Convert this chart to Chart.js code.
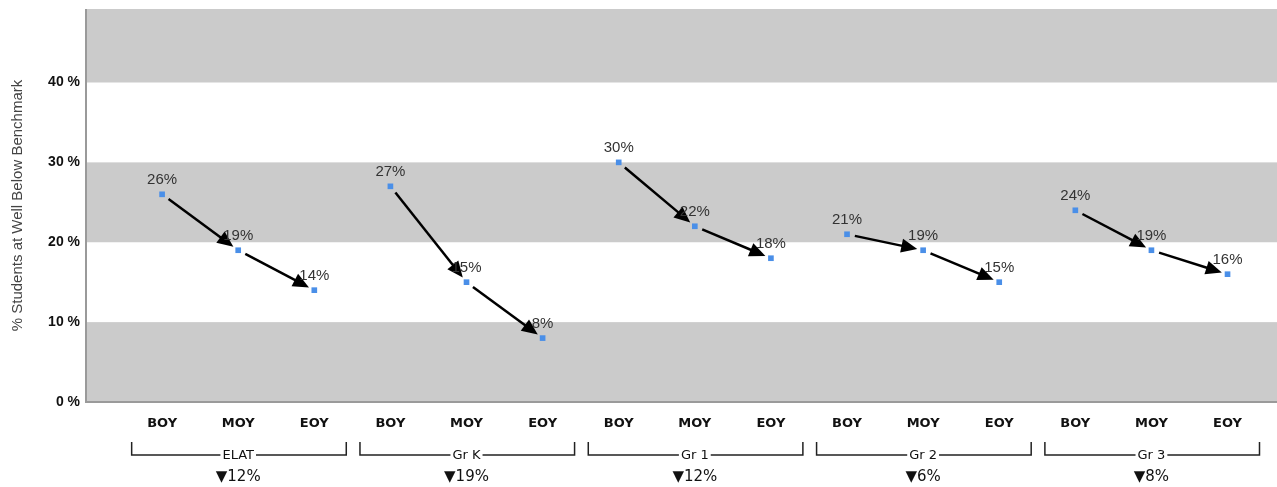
<!DOCTYPE html>
<html>
<head>
<meta charset="utf-8">
<script src="https://cdn.jsdelivr.net/npm/chart.js@4.4.0/dist/chart.umd.min.js"></script>
<style>
  html, body { margin: 0; padding: 0; background: #fff; }
  #wrap { width: 1277px; height: 487px; position: relative; }
</style>
</head>
<body>
<div id="wrap"><canvas id="chart"></canvas></div>
<script>
// groups along the x axis and the three testing windows
const groups = ['ELAT', 'Gr K', 'Gr 1', 'Gr 2', 'Gr 3'];
const periods = ['BOY', 'MOY', 'EOY'];
// % of students well below benchmark per window
const boyValues = [26, 27, 30, 21, 24];
const moyValues = [19, 15, 22, 19, 19];
const eoyValues = [14, 8, 18, 15, 16];
// drop from BOY to EOY shown under each group
const changes = [12, 19, 12, 6, 8];
const yTicks = [0, 10, 20, 30, 40];

const BAND_GREY = '#cbcbcb';
const POINT_BLUE = '#4a8fe8';

// flatten into one point per slot (x = slot index)
const points = [];
const perGroup = [boyValues, moyValues, eoyValues];
groups.forEach((g, gi) => {
  perGroup.forEach((arr, pi) => {
    points.push({ x: gi * 3 + pi, y: arr[gi] });
  });
});

const decorPlugin = {
  id: 'decor',
  beforeDatasetsDraw(chart) {
    const { ctx, chartArea: a, scales: { x, y } } = chart;
    ctx.save();
    // alternating bands: grey 0-10, white 10-20, grey 20-30 ...
    const edges = [...yTicks, y.max];
    for (let i = 0; i < edges.length - 1; i++) {
      if (i % 2 !== 0) continue;
      const top = y.getPixelForValue(edges[i + 1]);
      const bot = y.getPixelForValue(edges[i]);
      ctx.fillStyle = BAND_GREY;
      ctx.fillRect(a.left, top, a.right - a.left, bot - top);
    }
    // axis lines
    ctx.strokeStyle = '#9a9a9a';
    ctx.lineWidth = 2;
    ctx.beginPath();
    ctx.moveTo(a.left, a.top);
    ctx.lineTo(a.left, a.bottom);
    ctx.lineTo(a.right, a.bottom);
    ctx.stroke();

    // arrows between consecutive windows inside a group
    ctx.strokeStyle = '#000';
    ctx.fillStyle = '#000';
    ctx.lineWidth = 2.5;
    groups.forEach((g, gi) => {
      for (let j = 0; j < 2; j++) {
        const p0 = points[gi * 3 + j], p1 = points[gi * 3 + j + 1];
        const x0 = x.getPixelForValue(p0.x), y0 = y.getPixelForValue(p0.y);
        const x1 = x.getPixelForValue(p1.x), y1 = y.getPixelForValue(p1.y);
        const len = Math.hypot(x1 - x0, y1 - y0);
        const ux = (x1 - x0) / len, uy = (y1 - y0) / len;
        const sx = x0 + ux * 8, sy = y0 + uy * 8;
        const tx = x1 - ux * 6, ty = y1 - uy * 6;
        const head = 16, half = 7;
        const bx = tx - ux * head, by = ty - uy * head;
        ctx.beginPath();
        ctx.moveTo(sx, sy);
        ctx.lineTo(bx + ux * 2, by + uy * 2);
        ctx.stroke();
        ctx.beginPath();
        ctx.moveTo(tx, ty);
        ctx.lineTo(bx - uy * half, by + ux * half);
        ctx.lineTo(bx + uy * half, by - ux * half);
        ctx.closePath();
        ctx.fill();
      }
    });
    ctx.restore();
  },
  afterDatasetsDraw(chart) {
    const { ctx, scales: { x, y } } = chart;
    ctx.save();
    // value labels above the points
    ctx.fillStyle = '#333';
    ctx.font = '15px "Liberation Sans", Arial, sans-serif';
    ctx.textAlign = 'center';
    ctx.textBaseline = 'alphabetic';
    points.forEach(p => {
      ctx.fillText(p.y + '%', x.getPixelForValue(p.x), y.getPixelForValue(p.y) - 10);
    });

    // window labels, brackets and group names
    const step = x.getPixelForValue(1) - x.getPixelForValue(0);
    groups.forEach((g, gi) => {
      ctx.fillStyle = '#111';
      ctx.font = 'bold 13px "DejaVu Sans", Verdana, sans-serif';
      ctx.textBaseline = 'middle';
      periods.forEach((per, pi) => {
        ctx.fillText(per, x.getPixelForValue(gi * 3 + pi), 424);
      });
      const cx = x.getPixelForValue(gi * 3 + 1);
      const left = x.getPixelForValue(gi * 3) - 0.4 * step;
      const right = x.getPixelForValue(gi * 3 + 2) + 0.42 * step;
      ctx.font = '13px "DejaVu Sans", Verdana, sans-serif';
      const tw = ctx.measureText(g).width + 4;
      ctx.strokeStyle = '#222';
      ctx.lineWidth = 1.5;
      ctx.beginPath();
      ctx.moveTo(left, 442);
      ctx.lineTo(left, 455);
      ctx.lineTo(cx - tw / 2, 455);
      ctx.moveTo(cx + tw / 2, 455);
      ctx.lineTo(right, 455);
      ctx.lineTo(right, 442);
      ctx.stroke();
      ctx.fillText(g, cx, 456);
      ctx.font = '15px "DejaVu Sans", Verdana, sans-serif';
      ctx.fillText('\u25BC' + changes[gi] + '%', cx, 477);
    });
    ctx.restore();
  }
};

new Chart(document.getElementById('chart'), {
  type: 'scatter',
  data: {
    datasets: [{
      data: points,
      showLine: false,
      pointStyle: 'rect',
      pointRadius: 4,
      pointHoverRadius: 4,
      backgroundColor: POINT_BLUE,
      borderColor: POINT_BLUE,
      borderWidth: 0
    }]
  },
  options: {
    responsive: true,
    maintainAspectRatio: false,
    animation: false,
    layout: { autoPadding: false, padding: { top: 9, right: 0, bottom: 85, left: 0 } },
    plugins: {
      legend: { display: false },
      tooltip: { enabled: false }
    },
    scales: {
      x: {
        type: 'linear',
        display: false,
        min: -1,
        max: 14.65
      },
      y: {
        min: 0,
        max: 49.2,
        afterFit(scale) {
          scale.width = 86;
          scale.paddingTop = 0;
          scale.paddingBottom = 0;
        },
        grid: { display: false, drawTicks: false },
        border: { display: false },
        ticks: {
          stepSize: 10,
          padding: 6,
          color: '#111',
          font: { family: '"Liberation Sans", Arial, sans-serif', size: 14, weight: 'bold' },
          callback: v => (yTicks.includes(v) ? v + ' %' : '')
        },
        title: {
          display: true,
          text: '% Students at Well Below Benchmark',
          color: '#444',
          padding: { top: 9, bottom: 0 },
          font: { family: '"Liberation Sans", Arial, sans-serif', size: 15 }
        }
      }
    }
  },
  plugins: [decorPlugin]
});
</script>
</body>
</html>
